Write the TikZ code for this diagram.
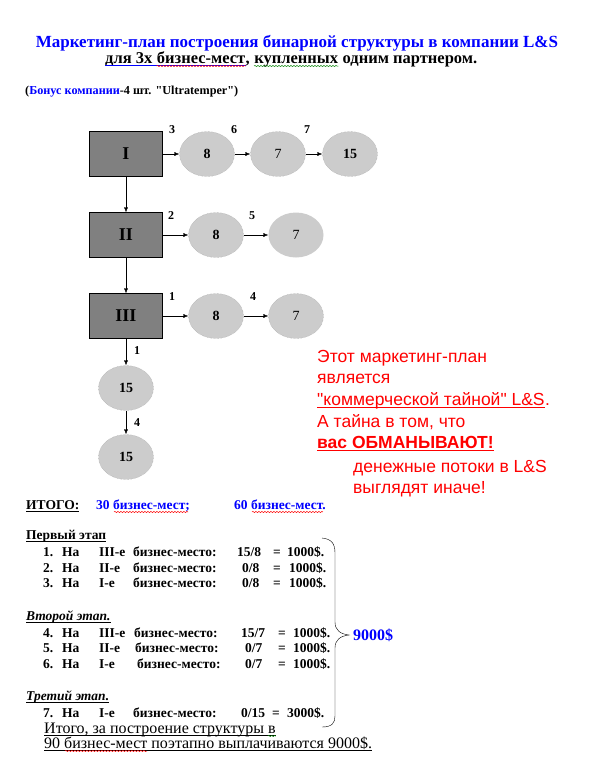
\documentclass[tikz,border=0pt]{standalone}
\usepackage{fontspec}
\setmainfont{Liberation Serif}
\setsansfont{Liberation Sans}
\usetikzlibrary{shapes.geometric,arrows.meta,decorations.pathmorphing}

\definecolor{boxgray}{HTML}{808080}
\definecolor{ovalgray}{HTML}{CCCCCC}
\definecolor{ovalline}{HTML}{999999}
\definecolor{wordblue}{HTML}{0000FF}
\definecolor{wordred}{HTML}{FF0000}
\definecolor{wordgreen}{HTML}{008000}

\tikzset{
  txt/.style={inner sep=0pt, anchor=base west, font=\bfseries\fontsize{13.5}{15}\selectfont},
  subttl/.style={txt, font=\bfseries\fontsize{16.5}{18}\selectfont},
  place/.style={draw, fill=boxgray, minimum width=73pt, minimum height=45pt, inner sep=0pt, font=\bfseries\fontsize{18}{20}\selectfont},
  oval/.style={ellipse, draw=ovalline, densely dotted, fill=ovalgray, minimum width=55pt, minimum height=45pt, inner sep=0pt, font=\bfseries\fontsize{14}{16}\selectfont},
  num/.style={inner sep=0pt, font=\bfseries\fontsize{12}{14}\selectfont},
  arr/.style={-{Latex[length=5pt,width=4pt]}},
  redtxt/.style={inner sep=0pt, anchor=base west, text=wordred, font=\sffamily\fontsize{17.5}{20}\selectfont},
  wave/.style={decorate, decoration={snake, amplitude=0.6pt, segment length=3pt}, line width=0.5pt},
}

\newcommand\ulnode[2][black]{\draw[#1, line width=0.8pt] ([yshift=-2pt]#2.base west) -- ([yshift=-2pt]#2.base east);}

\begin{document}
\begin{tikzpicture}[x=1pt, y=-1pt]
\useasboundingbox (0,0) rectangle (591,764);

% heading
\node[txt, anchor=base, text=wordblue, font=\bfseries\fontsize{17}{20}\selectfont] (title) at (297,47) {Маркетинг-план построения бинарной структуры в компании L\&S};
\node[subttl] (sub1) at (105,63) {для 3х};
\node[subttl] (sub2) at (sub1.base east) {\ бизнес-мест};
\node[subttl] (sub3) at (sub2.base east) {,};
\node[subttl] (sub4) at (sub3.base east) {\ купленных};
\node[subttl] (sub5) at (sub4.base east) {\ одним партнером.};
\draw[wordblue, line width=1pt] ([yshift=-2pt]sub1.base west) -- ([yshift=-2pt]sub2.base east);
\draw[wave, wordred] ([xshift=4pt, yshift=-3pt]sub2.base west) -- ([yshift=-3pt]sub2.base east);
\draw[wave, wordgreen] ([xshift=4pt, yshift=-3pt]sub4.base west) -- ([yshift=-3pt]sub4.base east);

\node[txt, font=\bfseries\fontsize{12.2}{14}\selectfont] (bonus) at (25,94) {(\textcolor{wordblue}{Бонус компании}-4 шт. \textquotedbl Ultratemper\textquotedbl)};

% structure
\node[place] (p1) at (126,154) {I};
\node[place] (p2) at (126,235) {II};
\node[place] (p3) at (126,316) {III};

\node[oval] (a1) at (207,154) {8};
\node[oval, font=\fontsize{14}{16}\selectfont] (a2) at (278,154) {7};
\node[oval] (a3) at (350,154) {15};
\node[oval] (b1) at (216,235) {8};
\node[oval, draw=none, font=\fontsize{14}{16}\selectfont] (b2) at (296,235) {7};
\node[oval] (c1) at (216,316) {8};
\node[oval, font=\fontsize{14}{16}\selectfont] (c2) at (296,316) {7};
\node[oval] (d1) at (126,388) {15};
\node[oval] (d2) at (126,457) {15};

\draw[arr] (p1) -- (p2);
\draw[arr] (p2) -- (p3);
\draw[arr] (p3) -- (d1);
\draw[arr] (d1) -- (d2);
\draw[arr] (p1) -- (a1);
\draw[arr] (a1) -- (a2);
\draw[arr] (a2) -- (a3);
\draw[arr] (p2) -- (b1);
\draw[arr] (b1) -- (b2);
\draw[arr] (p3) -- (c1);
\draw[arr] (c1) -- (c2);

\node[num] (n1) at (172,130) {3};
\node[num] (n2) at (234,130) {6};
\node[num] (n3) at (307,130) {7};
\node[num] (n4) at (171,216) {2};
\node[num] (n5) at (252,216) {5};
\node[num] (n6) at (172,297) {1};
\node[num] (n7) at (253,297) {4};
\node[num] (n8) at (137,351) {1};
\node[num] (n9) at (137,423) {4};

% red note
\node[redtxt] (r1) at (317,362) {Этот маркетинг-план};
\node[redtxt] (r2) at (317,383) {является};
\node[redtxt] (r3) at (317,405) {\textquotedbl коммерческой тайной\textquotedbl{} L\&S};
\node[redtxt] (r3b) at (r3.base east) {.};
\node[redtxt] (r4) at (317,427) {А тайна в том, что};
\node[redtxt, font=\sffamily\bfseries\fontsize{17.5}{20}\selectfont] (r5) at (317,448) {вас ОБМАНЫВАЮТ!};
\node[redtxt] (r6) at (353,472) {денежные потоки в L\&S};
\node[redtxt] (r7) at (353,493) {выглядят иначе!};
\ulnode[wordred]{r3}
\draw[wordred, line width=1.6pt] ([yshift=-2.5pt]r5.base west) -- ([yshift=-2.5pt]r5.base east);

% totals
\node[txt] (tot) at (26,509) {ИТОГО:};
\ulnode{tot}
\node[txt, text=wordblue] (tot2) at (96,509) {30 бизнес-мест;};
\node[txt, text=wordblue] (tot3) at (234,509) {60 бизнес-мест.};
\draw[wave, wordred] ([xshift=18pt, yshift=-3pt]tot2.base west) -- ([xshift=-2pt, yshift=-3pt]tot2.base east);
\draw[wave, wordred] ([xshift=18pt, yshift=-3pt]tot3.base west) -- ([xshift=-3pt, yshift=-3pt]tot3.base east);

% stages
\node[txt] (st1) at (26,539) {Первый этап};
\node[txt, font=\bfseries\itshape\fontsize{13.5}{15}\selectfont] (st2) at (26,620) {Второй этап.};
\node[txt, font=\bfseries\itshape\fontsize{13.5}{15}\selectfont] (st3) at (26,700) {Третий этап.};
\ulnode{st1}
\ulnode{st2}
\ulnode{st3}

\foreach \i/\y/\rom/\xb/\fr/\xf/\xe/\xs/\sm in {
  1/556/III-е/133/15\slash8/237/273/287/1000,
  2/572/II-е/133/0\slash8/242/273/289/1000,
  3/587/I-е/133/0\slash8/242/273/289/1000,
  4/637/III-е/134/15\slash7/241/278/293/1000,
  5/652/II-е/135/0\slash7/245/278/293/1000,
  6/668/I-е/137/0\slash7/245/278/293/1000,
  7/717/I-е/133/0\slash15/241/272/287/3000}{
  \node[txt] (nr\i) at (43,\y) {\i.};
  \node[txt] (na\i) at (62,\y) {На};
  \node[txt] (rom\i) at (99,\y) {\rom};
  \node[txt] (biz\i) at (\xb,\y) {бизнес-место:};
  \node[txt] (frac\i) at (\xf,\y) {\fr};
  \node[txt] (eq\i) at (\xe,\y) {=};
  \node[txt] (sum\i) at (\xs,\y) {\sm\$.};
}

% brace
\coordinate (brtop) at (322,538);
\coordinate (brtip) at (349,635);
\coordinate (brbot) at (322,727);
\draw (brtop) .. controls (332,539) and (335,544) .. (335,553) -- (335,622)
  .. controls (335,630) and (340,634) .. (brtip)
  .. controls (340,636) and (335,640) .. (335,648) -- (335,716)
  .. controls (335,723) and (332,727) .. (brbot);
\node[txt, text=wordblue, font=\bfseries\fontsize{16}{18}\selectfont] (total) at (353,640) {9000\$};

% summary
\node[txt, font=\fontsize{16}{18}\selectfont] (fin1) at (44,733) {Итого, за построение структуры в};
\node[txt, font=\fontsize{16}{18}\selectfont] (fin2) at (44,748) {90 бизнес-мест поэтапно выплачиваются 9000\$.};
\ulnode{fin1}
\ulnode{fin2}
\draw[wave, wordgreen] ([xshift=-8pt, yshift=-3pt]fin1.base east) -- ([yshift=-3pt]fin1.base east);
\draw[wave, wordred] ([xshift=21pt, yshift=-3pt]fin2.base west) -- ([xshift=103pt, yshift=-3pt]fin2.base west);
\end{tikzpicture}
\end{document}
